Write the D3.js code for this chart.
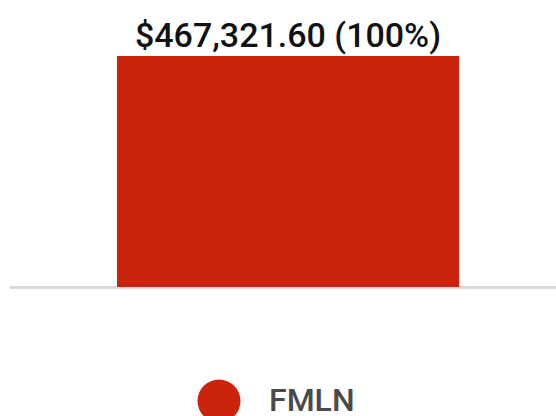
<!DOCTYPE html>
<html>
<head>
<meta charset="utf-8">
<script src="https://d3js.org/d3.v7.min.js"></script>
<style>
  body { margin: 0; background: #fff; }
  svg { display: block; font-family: Roboto, sans-serif; }
</style>
</head>
<body>
<div id="chart"></div>
<script>
var categories = ["FMLN"]
var values = [467321.60]
var shares = ["100%"]
var colors = ["#cc230d"]

var svgw = 556
var svgh = 416
var svg = d3.select('#chart').append('svg')
    .attr('width', svgw)
    .attr('height', svgh)

var x = d3.scaleBand()
    .domain(categories)
    .range([20, 556])
    .paddingInner(0.221)
    .paddingOuter(0.221)

var y = d3.scaleLinear()
    .domain([0, d3.max(values)])
    .range([287, 56])

var fmt = d3.format("$,.2f")

// baseline
svg.append('line')
    .attr('x1', 10).attr('x2', 556)
    .attr('y1', y(0) + 0.5).attr('y2', y(0) + 0.5)
    .attr('stroke', '#d9d9d9')
    .attr('stroke-width', 3)

svg.selectAll('.bar')
    .data(categories)
    .enter()
    .append('rect')
    .attr('class', 'bar')
    .attr('x', function(d){ return x(d) })
    .attr('width', x.bandwidth())
    .attr('y', function(d, i){ return y(values[i]) })
    .attr('height', function(d, i){ return y(0) - y(values[i]) })
    .attr('fill', function(d, i){ return colors[i] })

svg.selectAll('.val')
    .data(categories)
    .enter()
    .append('text')
    .attr('class', 'val')
    .attr('x', function(d){ return x(d) + x.bandwidth()/2 })
    .attr('y', function(d, i){ return y(values[i]) - 9 })
    .attr('text-anchor', 'middle')
    .attr('font-size', 34)
    .attr('font-weight', 500)
    .attr('fill', '#111')
    .text(function(d, i){ return fmt(values[i]) + ' (' + shares[i] + ')' })

// legend
var lg = svg.append('g').attr('transform', 'translate(219,401)')
lg.append('circle')
    .attr('r', 21.5)
    .attr('fill', colors[0])
lg.append('text')
    .attr('x', 50)
    .attr('y', 10)
    .attr('font-size', 32)
    .attr('font-weight', 500)
    .attr('fill', '#4a4a4a')
    .text(categories[0])
</script>
</body>
</html>
